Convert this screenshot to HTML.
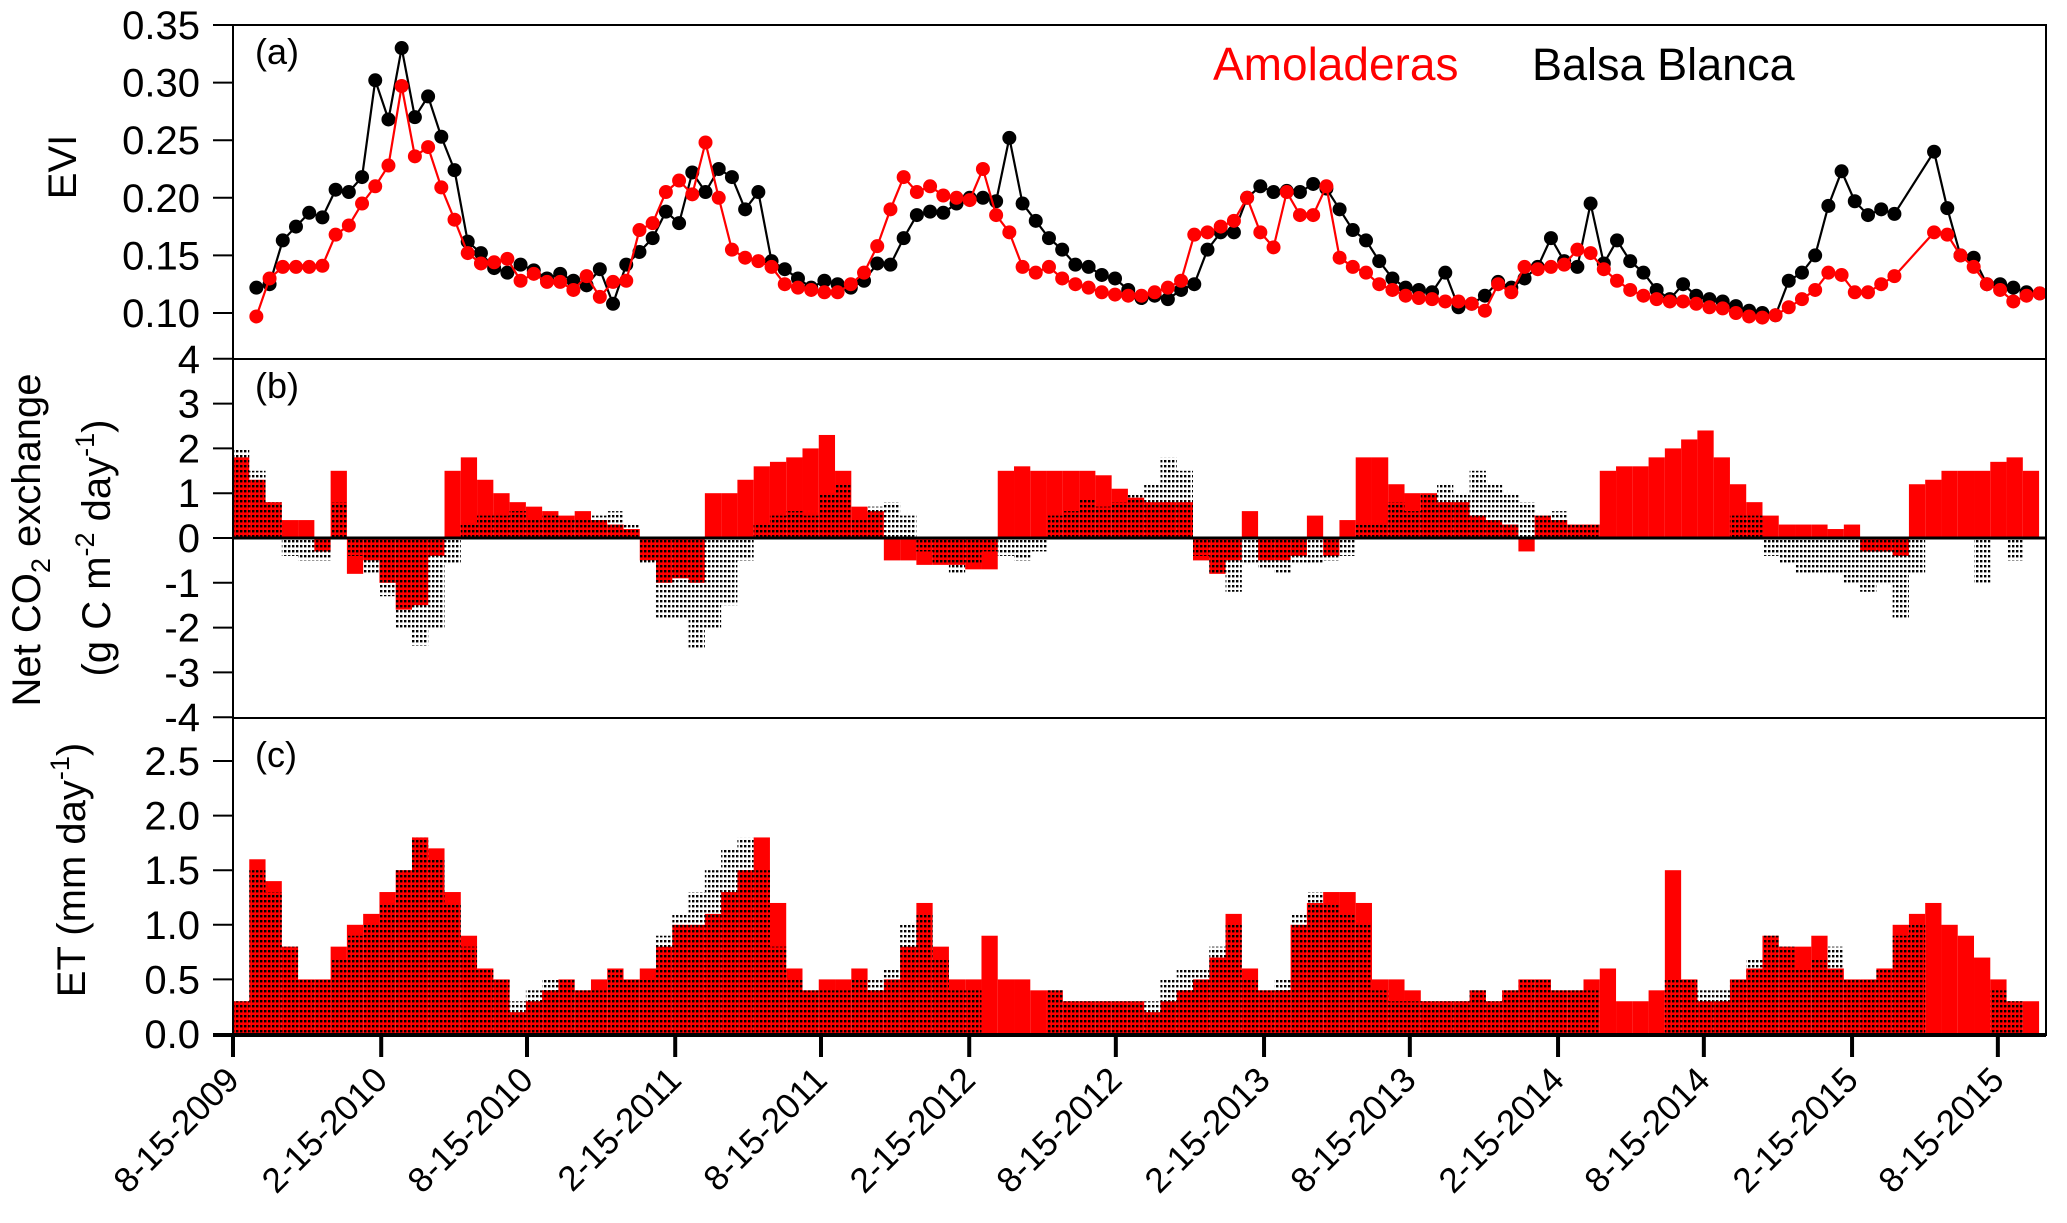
<!DOCTYPE html>
<html><head><meta charset="utf-8"><style>
html,body{margin:0;padding:0;background:#fff;}
svg{display:block;font-family:"Liberation Sans",Arial,sans-serif;}
</style></head><body>
<svg id="chart" width="2067" height="1223" viewBox="0 0 2067 1223" xmlns="http://www.w3.org/2000/svg">
<defs>
<pattern id="dots" width="4" height="5" patternUnits="userSpaceOnUse">
<rect x="0" y="0" width="2.4" height="2.4" fill="#000"/>
</pattern>
</defs>
<g id="gA"></g>
<g id="gB"></g>
<g id="gC"></g>
<g id="gAxes"></g>
<text x="1213" y="80" font-size="46" fill="#ff0000">Amoladeras</text>
<text x="1532" y="80" font-size="45" fill="#000">Balsa Blanca</text>
<text x="255" y="64" font-size="36">(a)</text>
<text x="255" y="398" font-size="36">(b)</text>
<text x="255" y="767" font-size="36">(c)</text>
<text transform="translate(76,167) rotate(-90)" text-anchor="middle" font-size="40">EVI</text>
<text transform="translate(40,540) rotate(-90)" text-anchor="middle" font-size="40">Net CO<tspan font-size="27" dy="10">2</tspan><tspan dy="-10"> exchange</tspan></text>
<text transform="translate(110,548) rotate(-90)" text-anchor="middle" font-size="40">(g C m<tspan font-size="27" dy="-16">-2</tspan><tspan dy="16"> day</tspan><tspan font-size="27" dy="-16">-1</tspan><tspan dy="16">)</tspan></text>
<text transform="translate(85,870) rotate(-90)" text-anchor="middle" font-size="40">ET (mm day<tspan font-size="27" dy="-16">-1</tspan><tspan dy="16">)</tspan></text>
</svg>
<script>
// ---- data ----
const xTickLabels = ["8-15-2009","2-15-2010","8-15-2010","2-15-2011","8-15-2011","2-15-2012","8-15-2012","2-15-2013","8-15-2013","2-15-2014","8-15-2014","2-15-2015","8-15-2015"];
const eviTicks = [0.10,0.15,0.20,0.25,0.30,0.35];
const neeTicks = [4,3,2,1,0,-1,-2,-3,-4];
const etTicks = [0.0,0.5,1.0,1.5,2.0,2.5];
const eviStartDay = 29;
const eviStepDays = 16.4;
const eviBalsaBlanca = [.122,.125,.163,.175,.187,.183,.207,.205,.218,.302,
.268,.330,.270,.288,.253,.224,.162,.152,.139,.135,
.142,.137,.130,.134,.128,.124,.138,.108,.142,.153,
.165,.188,.178,.222,.205,.225,.218,.190,.205,.145,
.138,.130,.122,.128,.125,.122,.128,.143,.142,.165,
.185,.188,.187,.195,.200,.200,.197,.252,.195,.180,
.165,.155,.142,.140,.133,.130,.120,.113,.115,.112,
.120,.125,.155,.170,.170,.200,.210,.205,.206,.205,
.212,.208,.190,.172,.163,.145,.130,.122,.120,.118,
.135,.105,.108,.115,.127,.122,.130,.140,.165,.145,
.140,.195,.143,.163,.145,.135,.120,.112,.125,.115,
.112,.110,.106,.102,.100,.098,.128,.135,.150,.193,.223,.197,.185,.190,.186,null,null,.240,.191,.150,.148,.125,.125,.122,.118,.117];
const eviAmoladeras = [.097,.130,.140,.140,.140,.141,.168,.176,.195,.210,
.228,.297,.236,.244,.209,.181,.152,.143,.144,.147,
.128,.134,.127,.127,.120,.132,.114,.127,.128,.172,
.178,.205,.215,.203,.248,.200,.155,.148,.145,.140,
.125,.122,.120,.118,.118,.125,.135,.158,.190,.218,
.205,.210,.202,.200,.198,.225,.185,.170,.140,.135,
.140,.130,.125,.122,.118,.116,.115,.115,.118,.122,
.128,.168,.170,.175,.180,.200,.170,.157,.205,.185,
.185,.210,.148,.140,.135,.125,.120,.115,.113,.112,
.110,.110,.108,.102,.125,.118,.140,.138,.140,.142,
.155,.152,.138,.128,.120,.115,.112,.110,.110,.108,
.105,.104,.100,.097,.096,.098,.105,.112,.120,.135,
.133,.118,.118,.125,.132,null,null,.170,.168,.150,
.140,.125,.120,.110,.115,.117];
const binDays = 20.2;
const fluxEndDay = 2243;
const neeAmoladeras = [1.8,1.3,0.8,0.4,0.4,-0.3,1.5,-0.8,-0.5,-1.0,
-1.6,-1.5,-0.4,1.5,1.8,1.3,1.0,0.8,0.7,0.6,
0.5,0.6,0.4,0.3,0.2,-0.5,-1.0,-0.9,-1.0,1.0,
1.0,1.3,1.6,1.7,1.8,2.0,2.3,1.5,0.7,0.6,
-0.5,-0.5,-0.6,-0.6,-0.6,-0.7,-0.7,1.5,1.6,1.5,
1.5,1.5,1.5,1.4,1.1,0.9,0.8,0.8,0.8,-0.5,
-0.8,-0.5,0.6,-0.5,-0.5,-0.4,0.5,-0.4,0.4,1.8,
1.8,1.2,1.0,1.0,0.8,0.8,0.5,0.4,0.3,-0.3,
0.5,0.4,0.3,0.3,1.5,1.6,1.6,1.8,2.0,2.2,
2.4,1.8,1.2,0.8,0.5,0.3,0.3,0.3,0.2,0.3,
-0.3,-0.3,-0.4,1.2,1.3,1.5,1.5,1.5,1.7,1.8,1.5];
const neeBalsaBlanca = [2.0,1.5,0.8,-0.4,-0.5,-0.5,0.8,-0.4,-0.8,-1.3,
-2.0,-2.4,-2.0,-0.6,0.3,0.5,0.5,0.6,0.4,0.5,
0.4,0.4,0.5,0.6,0.3,-0.6,-1.8,-1.8,-2.5,-2.0,
-1.5,-0.5,0.3,0.5,0.6,0.5,1.0,1.2,0.4,0.7,
0.8,0.5,-0.3,-0.6,-0.8,-0.6,-0.3,-0.4,-0.5,-0.3,
0.5,0.6,0.9,0.7,0.8,1.0,1.2,1.8,1.5,-0.4,
-0.8,-1.2,-0.6,-0.7,-0.8,-0.6,-0.6,-0.5,-0.4,0.3,
0.3,0.8,0.6,1.0,1.2,1.0,1.5,1.2,1.0,0.8,
0.5,0.6,0.3,0.3,null,null,null,null,null,null,
null,null,0.5,0.5,-0.4,-0.6,-0.8,-0.8,-0.8,-1.0,
-1.2,-1.0,-1.8,-0.8,null,null,null,-1.0,null,-0.5,null];
const etAmoladeras = [0.3,1.6,1.4,0.8,0.5,0.5,0.8,1.0,1.1,1.3,
1.5,1.8,1.7,1.3,0.9,0.6,0.5,0.2,0.3,0.4,
0.5,0.4,0.5,0.6,0.5,0.6,0.8,1.0,1.0,1.1,
1.3,1.5,1.8,1.2,0.6,0.4,0.5,0.5,0.6,0.4,
0.5,0.8,1.2,0.8,0.5,0.5,0.9,0.5,0.5,0.4,
0.4,0.3,0.3,0.3,0.3,0.3,0.2,0.3,0.4,0.5,
0.7,1.1,0.6,0.4,0.4,1.0,1.2,1.3,1.3,1.2,
0.5,0.5,0.4,0.3,0.3,0.3,0.4,0.3,0.4,0.5,
0.5,0.4,0.4,0.5,0.6,0.3,0.3,0.4,1.5,0.5,
0.3,0.3,0.5,0.6,0.9,0.8,0.8,0.9,0.6,0.5,
0.5,0.6,1.0,1.1,1.2,1.0,0.9,0.7,0.5,0.3,0.3];
const etBalsaBlanca = [0.3,1.5,1.3,0.8,0.5,0.5,0.7,0.9,1.0,1.2,
1.5,1.8,1.6,1.2,0.8,0.6,0.5,0.3,0.4,0.5,
0.5,0.4,0.4,0.6,0.5,0.5,0.9,1.1,1.3,1.5,
1.7,1.8,1.5,0.8,0.5,0.4,0.4,0.4,0.5,0.5,
0.6,1.0,1.1,0.7,0.4,0.4,null,null,null,null,
0.4,0.3,0.3,0.3,0.3,0.3,0.3,0.5,0.6,0.6,
0.8,1.0,0.5,0.4,0.5,1.1,1.3,1.2,1.1,1.0,
0.4,0.3,0.3,0.3,0.3,0.3,0.4,0.3,0.4,0.5,
0.5,0.4,0.4,0.4,null,null,null,null,0.5,0.5,
0.4,0.4,0.5,0.7,0.9,0.8,0.6,0.7,0.8,0.5,
0.5,0.6,0.9,1.0,null,null,null,null,0.4,0.3,null];

// ---- layout ----
const NS = "http://www.w3.org/2000/svg";
const L = 233, R = 2046;
const pxPerDay = 0.8055;
const x = d => L + d * pxPerDay;
const yA = v => 313 - (v - 0.10) * 1152;
const yB = v => 538 - v * 44.8;
const yC = v => 1034 - v * 109.2;
const base = new Date(2009, 7, 15);
function dayOf(label){const p=label.split("-");const d=new Date(+p[2],+p[0]-1,+p[1]);return Math.round((d-base)/86400000);}
function el(tag, attrs, parent){const e=document.createElementNS(NS,tag);for(const k in attrs)e.setAttribute(k,attrs[k]);parent.appendChild(e);return e;}

const gA=document.getElementById("gA"),gB=document.getElementById("gB"),gC=document.getElementById("gC"),gX=document.getElementById("gAxes");

function drawEvi(vals, color, name){
  const pts=[];
  vals.forEach((v,i)=>{ if(v!=null) pts.push([x(eviStartDay+i*eviStepDays),yA(v)]); });
  const p=el("polyline",{points:pts.map(q=>q.join(",")).join(" "),fill:"none",stroke:color,"stroke-width":2.2},gA);
  
  
  vals.forEach((v,i)=>{ if(v==null)return;
    const c=el("circle",{cx:x(eviStartDay+i*eviStepDays),cy:yA(v),r:7,fill:color},gA);
    
    
  });
}
drawEvi(eviBalsaBlanca,"#000","evi-balsa-blanca");
drawEvi(eviAmoladeras,"#ff0000","evi-amoladeras");

function drawBars(vals, yf, g, fill, name){
  vals.forEach((v,k)=>{ if(v==null)return;
    const d0=k*binDays, d1=Math.min((k+1)*binDays,fluxEndDay);
    if(d1<=d0)return;
    const y0=yf(0), y1=yf(v);
    const r=el("rect",{x:x(d0),y:Math.min(y0,y1),width:x(d1)-x(d0),height:Math.abs(y1-y0),fill:fill},g);
    
    
  });
}
drawBars(neeAmoladeras,yB,gB,"#ff0000","nee-amoladeras");
drawBars(neeBalsaBlanca,yB,gB,"url(#dots)","nee-balsa-blanca");
drawBars(etAmoladeras,yC,gC,"#ff0000","et-amoladeras");
drawBars(etBalsaBlanca,yC,gC,"url(#dots)","et-balsa-blanca");

[[25,359],[359,718],[718,1035]].forEach((f,i)=>{
  const r=el("rect",{x:L,y:f[0],width:R-L,height:f[1]-f[0],fill:"none",stroke:"#000","stroke-width":2},gX);
  
  
});
const zl=el("line",{x1:L,x2:R,y1:yB(0),y2:yB(0),stroke:"#000","stroke-width":3},gX);


const bl=el("line",{x1:L-20,x2:R,y1:1035,y2:1035,stroke:"#000","stroke-width":4},gX);



function yTicks(ticks, yf, fmt, name){
  ticks.forEach(t=>{
    const ln=el("line",{x1:L-20,x2:L,y1:yf(t),y2:yf(t),stroke:"#000","stroke-width":2},gX);
    
    
    const tx=el("text",{x:200,y:yf(t)+14,"text-anchor":"end","font-size":40},gX);
    tx.textContent=fmt(t);
    
    
  });
}
yTicks(eviTicks,yA,t=>t.toFixed(2),"evi");
yTicks(neeTicks,yB,t=>String(t),"nee");
yTicks(etTicks,yC,t=>t.toFixed(1),"et");

xTickLabels.forEach(lab=>{
  const xx=x(dayOf(lab));
  const ln=el("line",{x1:xx,x2:xx,y1:1035,y2:1057,stroke:"#000","stroke-width":4},gX);
  
  
  const tx=el("text",{transform:`translate(${xx+8},${1082}) rotate(-45)`,"text-anchor":"end","font-size":35},gX);
  tx.textContent=lab;
  
  
});
</script>
</body></html>
